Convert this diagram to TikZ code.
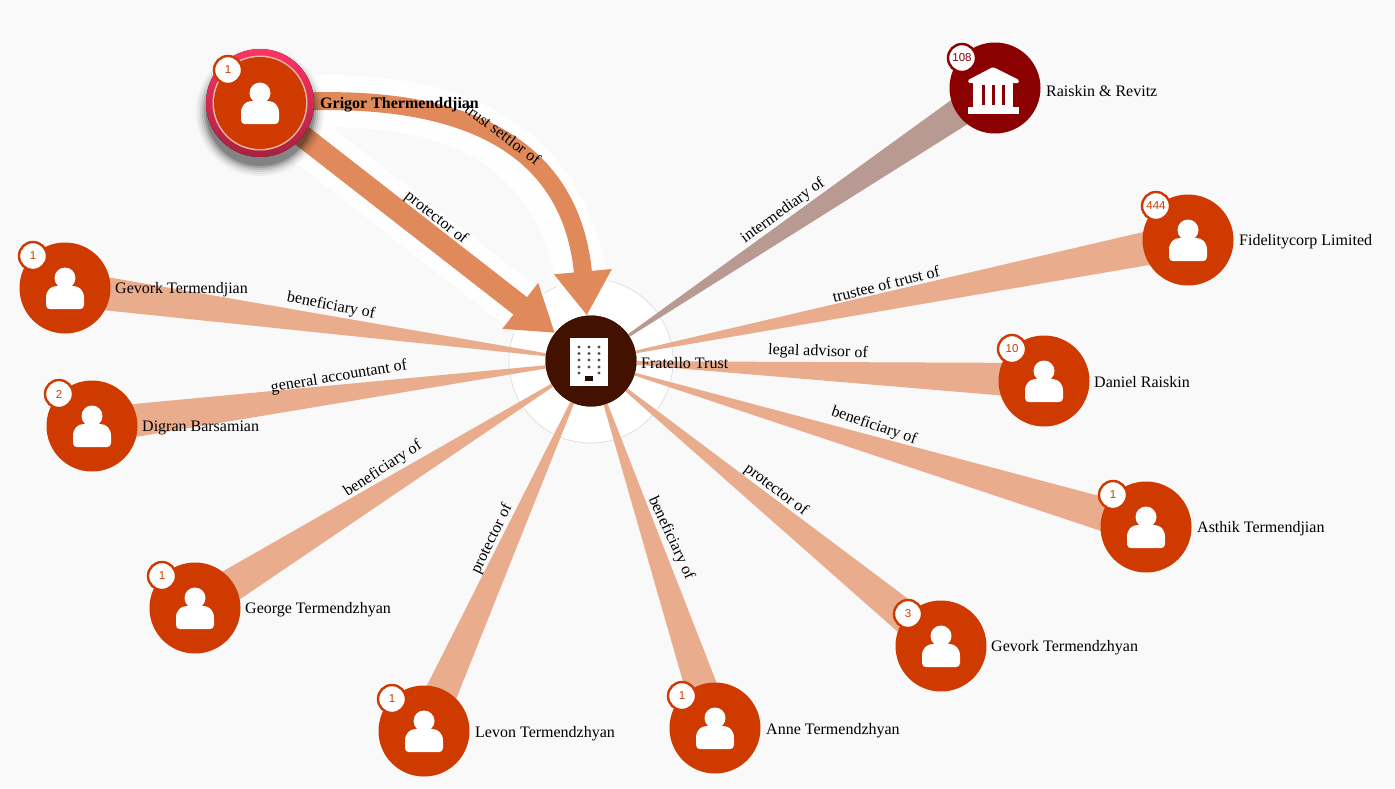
\documentclass[tikz,border=0pt]{standalone}
\usepackage{fontspec}
\setmainfont{Liberation Serif}
\newfontfamily\badgefont{Liberation Sans}
\usetikzlibrary{calc,arrows.meta}
\definecolor{bgc}{HTML}{F9F9F9}
\definecolor{nodeorange}{HTML}{CF3A00}
\definecolor{bankred}{HTML}{8B0000}
\definecolor{hubbrown}{HTML}{431100}
\definecolor{wedgec}{HTML}{E9AD8E}
\definecolor{wedgeb}{HTML}{B89A92}
\definecolor{arrowc}{HTML}{E0895A}
\definecolor{ringlight}{HTML}{E6B9A8}
\definecolor{ringtop}{HTML}{FF3366}
\definecolor{ringbot}{HTML}{A82040}
\tikzset{
  entity/.style={circle,fill=nodeorange,minimum size=90pt,inner sep=0pt},
  badgebox/.style={circle,fill=white,draw=#1,line width=2.4pt,minimum size=28pt,inner sep=0pt,text=#1,font=\badgefont\fontsize{11.5}{12}\selectfont},
  badgebox/.default=nodeorange,
  name label/.style={anchor=west,inner sep=0pt,yshift=-1.5pt,font=\fontsize{16}{18}\selectfont,text=black},
  edge label/.style={inner sep=0pt,font=\fontsize{16}{18}\selectfont,text=black},
  halo/.style={white,opacity=0.85,line width=#1},
  heavy/.style={arrowc,line width=#1,-{Triangle[length=44pt,width=55pt]}},
  pics/person/.style={code={
    \fill[white] (0,-10) circle (10.5pt);
    \fill[white] (-19,17) -- (-19,10) .. controls (-19,2) and (-14,-2) .. (-8,-2) -- (8,-2)
      .. controls (14,-2) and (19,2) .. (19,10) -- (19,17)
      .. controls (19,20) and (17,21) .. (15,21) -- (-15,21)
      .. controls (-17,21) and (-19,20) .. (-19,17) -- cycle;
  }},
}
\begin{document}
\begin{tikzpicture}[x=1pt,y=-1pt]
\useasboundingbox (0,0) rectangle (1395,788);
\fill[bgc] (0,0) rectangle (1395,788);
% hub halo
\fill[white,draw=black!15,line width=0.6pt] (591,361) circle (82pt);
% entity nodes
\coordinate (hubc) at (591,361);
\node[entity] (grigor) at (260,103) {};
\node[entity,fill=bankred] (raiskin) at (995,88) {};
\node[entity] (fidelity) at (1188,240) {};
\node[entity] (daniel) at (1044,381) {};
\node[entity] (asthik) at (1146,527) {};
\node[entity] (gevorkz) at (941,646) {};
\node[entity] (anne) at (715,728) {};
\node[entity] (levon) at (424,731) {};
\node[entity] (george) at (195,608) {};
\node[entity] (digran) at (92,426) {};
\node[entity] (gevorkj) at (65,288) {};
\node[circle,fill=hubbrown,minimum size=91pt,inner sep=0pt] (hub) at (hubc) {};
% halos of the heavy links
\draw[halo=50pt] (grigor) -- (hub);
\draw[halo=52pt] (grigor) .. controls (440,97) and (570,130) .. (hub);
% wedge connectors
\foreach \n in {fidelity,daniel,asthik,gevorkz,anne,levon,george,digran,gevorkj}
  \fill[wedgec] (hub.center) -- ($(\n)!18pt!90:(hub)$) -- ($(\n)!18pt!-90:(hub)$) -- cycle;
\fill[wedgeb] (hub.center) -- ($(raiskin)!16pt!90:(hub)$) -- ($(raiskin)!16pt!-90:(hub)$) -- cycle;
% heavy arrows
\draw[heavy=22pt] (grigor) -- (hub);
\draw[heavy=18pt] (grigor) .. controls (440,97) and (570,130) .. (hub);
% shadow and ring of selected node
\foreach \r/\o in {64/0.04,62/0.05,60/0.07,58/0.10,56/0.14,54/0.18}
  \fill[black,opacity=\o] (260,112) circle (\r pt);
\fill[top color=ringtop,bottom color=ringbot] (260,103) circle (54pt);
\fill[ringlight] (260,103) circle (47.5pt);
% redraw nodes on top
\foreach \n/\c in {raiskin/bankred,fidelity/nodeorange,daniel/nodeorange,asthik/nodeorange,gevorkz/nodeorange,anne/nodeorange,levon/nodeorange,george/nodeorange,digran/nodeorange,gevorkj/nodeorange}
  \fill[\c] (\n) circle (45.5pt);
\fill[nodeorange] (grigor) circle (46pt);
\fill[hubbrown] (hub) circle (45.5pt);
% icons
\foreach \n in {grigor,fidelity,daniel,asthik,gevorkz,anne,levon,george,digran,gevorkj}
  \path (\n) pic {person};
% bank icon
\begin{scope}[shift={(raiskin)}]
  \fill[white,rounded corners=1.5pt] (-27,-8) -- (-2,-21) -- (24,-8) -- (24,-5) -- (-27,-5) -- cycle;
  \fill[white] (-22,-5) rectangle (18,19);
  \fill[bankred] (-13.5,-3) rectangle (-10.5,17);
  \fill[bankred] (-3.5,-3) rectangle (-0.5,17);
  \fill[bankred] (6.5,-3) rectangle (9.5,17);
  \fill[white] (-27,19) rectangle (24,26);
\end{scope}
% building icon
\fill[white] (570,338) rectangle (608,386);
\foreach \y in {347,353.5,360,367}
  \foreach \x in {579,589,599}
    \fill[black!70] (\x,\y) circle (1.6pt);
\fill[black!70] (579,373) circle (1.6pt);
\fill[black!70] (599,373) circle (1.6pt);
\fill[hubbrown!60!black] (585,376) rectangle (593,381);
% badges
\node[badgebox] (b1) at ($(grigor)+(-32,-33)$) {1};
\node[badgebox=bankred] (b2) at ($(raiskin)+(-33,-30)$) {108};
\node[badgebox] (b3) at ($(fidelity)+(-32,-34)$) {444};
\node[badgebox] (b4) at ($(daniel)+(-32,-32)$) {10};
\node[badgebox] (b5) at ($(asthik)+(-33,-32)$) {1};
\node[badgebox] (b6) at ($(gevorkz)+(-33,-32)$) {3};
\node[badgebox] (b7) at ($(anne)+(-33,-32)$) {1};
\node[badgebox] (b8) at ($(levon)+(-32,-32)$) {1};
\node[badgebox] (b9) at ($(george)+(-33,-32)$) {1};
\node[badgebox] (b10) at ($(digran)+(-33,-32)$) {2};
\node[badgebox] (b11) at ($(gevorkj)+(-32,-32)$) {1};
% names
\node[name label,font=\fontsize{16}{18}\selectfont\bfseries] (t1) at (320,103) {Grigor Thermenddjian};
\node[name label] (t2) at (1046,90) {Raiskin \& Revitz};
\node[name label] (t3) at (1239,240) {Fidelitycorp Limited};
\node[name label] (t4) at (1094,381) {Daniel Raiskin};
\node[name label] (t5) at (1197,527) {Asthik Termendjian};
\node[name label] (t6) at (991,646) {Gevork Termendzhyan};
\node[name label] (t7) at (766,729) {Anne Termendzhyan};
\node[name label] (t8) at (475,732) {Levon Termendzhyan};
\node[name label] (t9) at (245,608) {George Termendzhyan};
\node[name label] (t10) at (142,426) {Digran Barsamian};
\node[name label] (t11) at (115,288) {Gevork Termendjian};
\node[name label] (t12) at (641,362) {Fratello Trust};
% edge labels
\node[edge label,rotate=-11] (e1) at (331,306) {beneficiary of};
\node[edge label,rotate=9.5] (e2) at (339,377) {general accountant of};
\node[edge label,rotate=33] (e3) at (383,469) {beneficiary of};
\node[edge label,rotate=64] (e4) at (492,539) {protector of};
\node[edge label,rotate=-65] (e5) at (671,538) {beneficiary of};
\node[edge label,rotate=-37] (e6) at (776,490) {protector of};
\node[edge label,rotate=-19] (e7) at (874,426) {beneficiary of};
\node[edge label,rotate=-2] (e8) at (818,352) {legal advisor of};
\node[edge label,rotate=14] (e9) at (886,284) {trustee of trust of};
\node[edge label,rotate=36] (e10) at (783,211) {intermediary of};
\node[edge label,rotate=-38] (e11) at (436,218) {protector of};
\node[edge label,rotate=-37] (e12) at (503,134) {trust settlor of};
\end{tikzpicture}
\end{document}
